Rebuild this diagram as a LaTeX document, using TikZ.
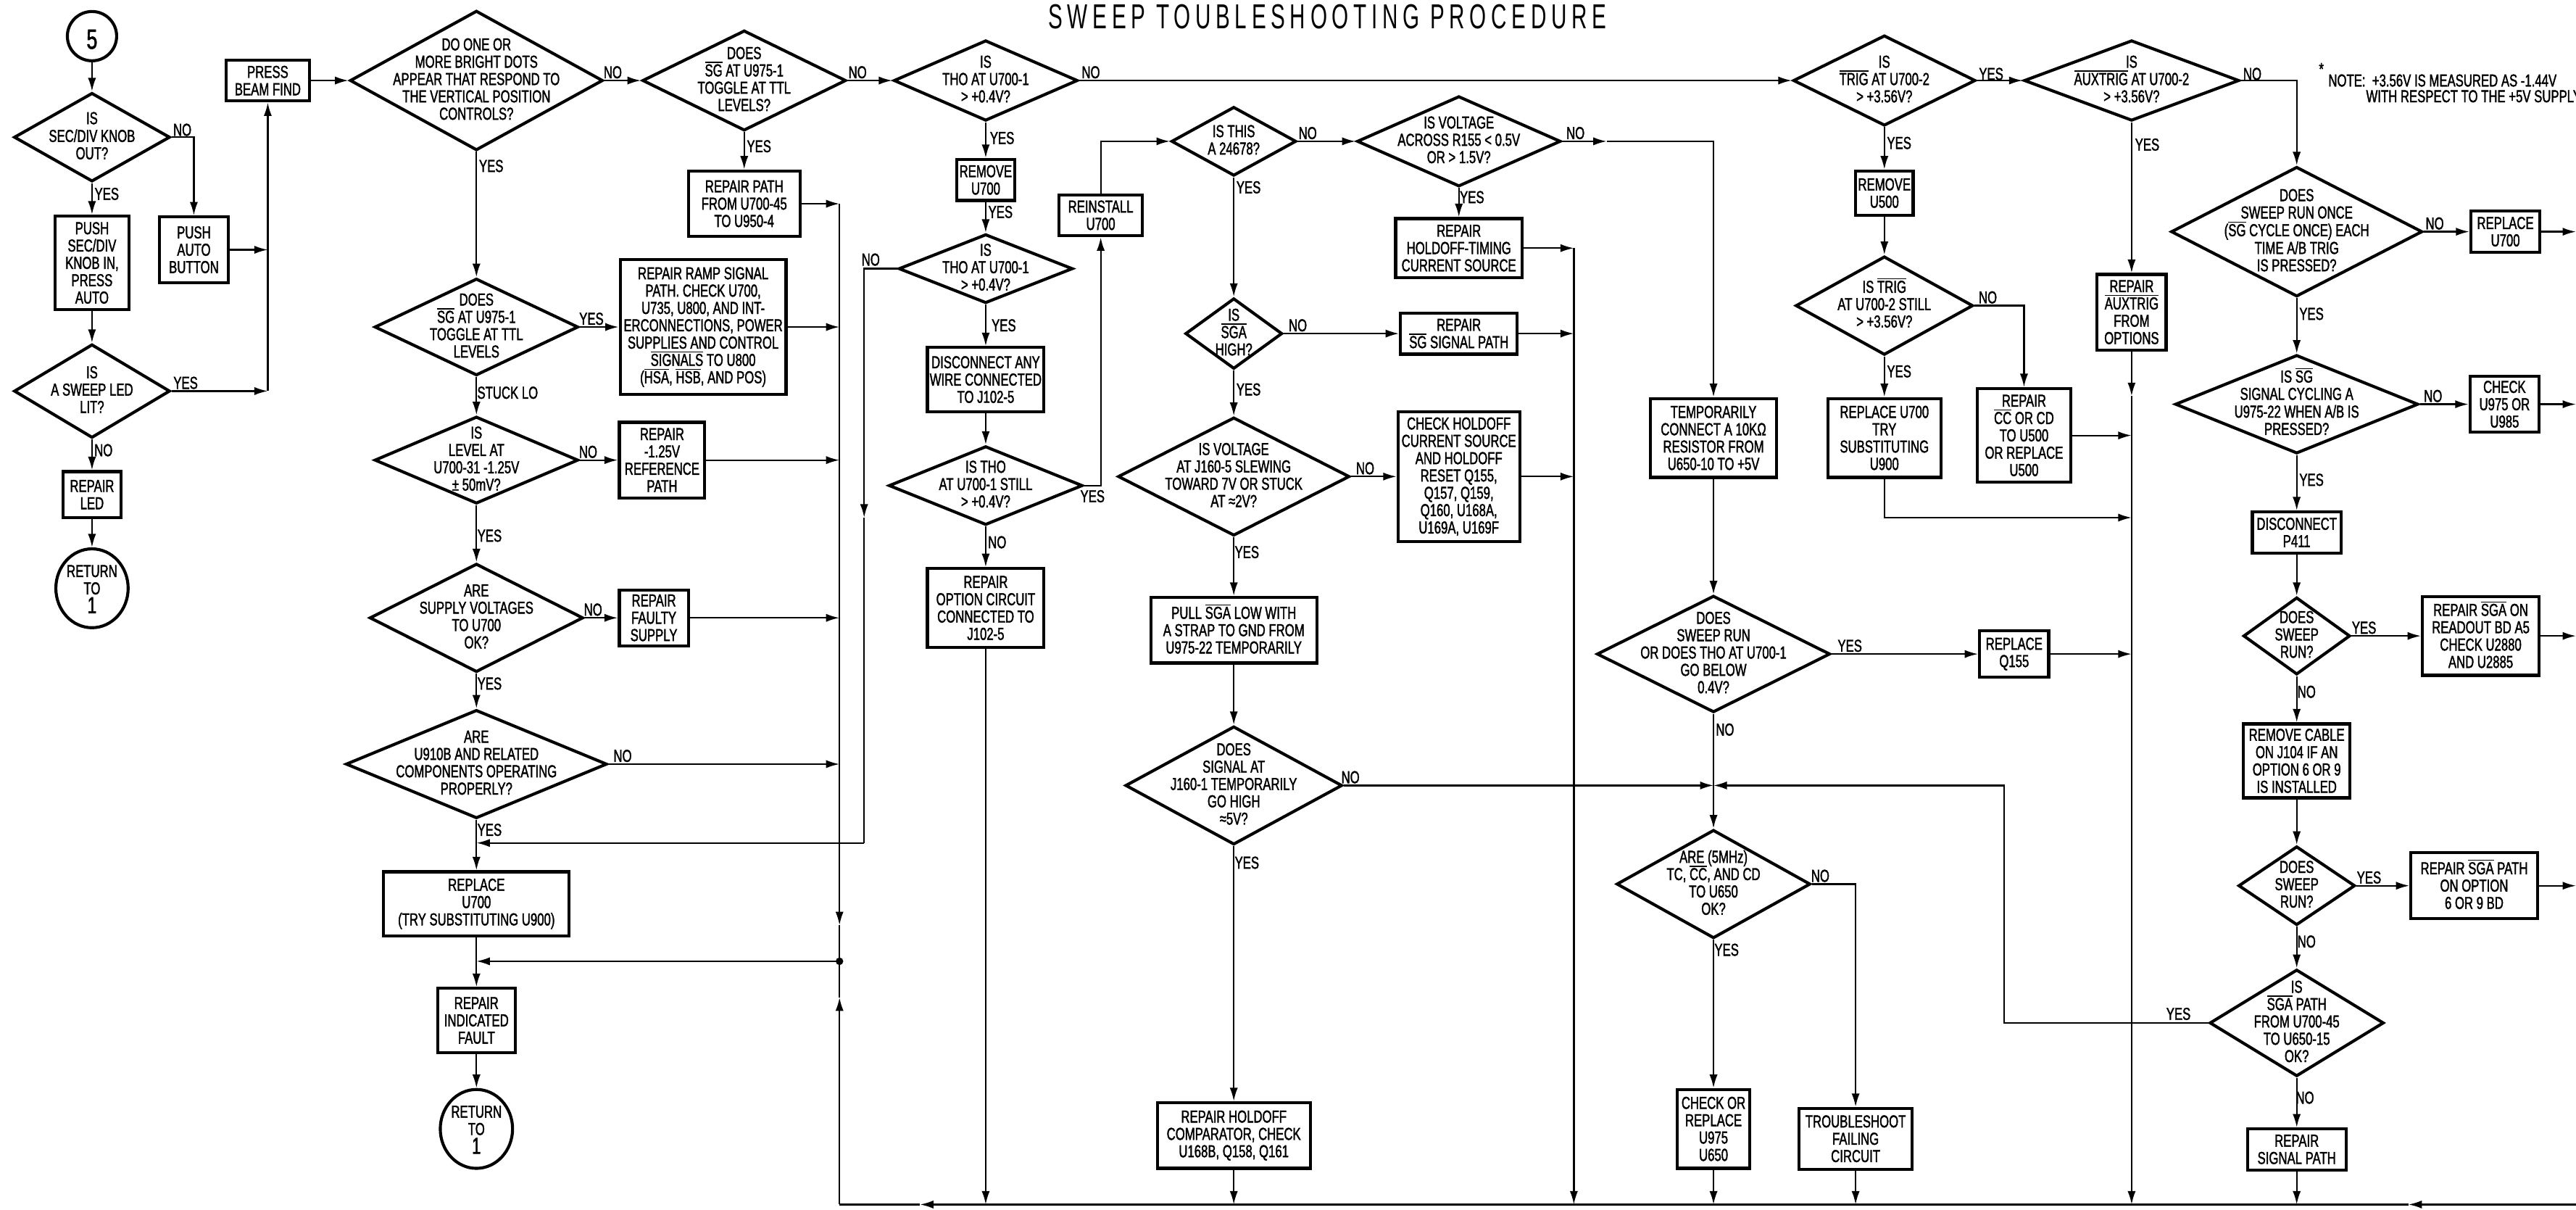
\documentclass[tikz,border=0pt]{standalone}
\usepackage{fontspec}
\setmainfont{Liberation Sans}[FakeStretch=0.70,FakeBold=1.6]
\newfontfamily\ttlfont{Liberation Sans}[FakeStretch=0.62,LetterSpace=14]
\usetikzlibrary{arrows.meta,shapes.geometric}
\newcommand\nf{\fontsize{7.5}{7.5}\selectfont}
\newcommand\ov[1]{\smash{\vbox{\hrule height 0.45pt\kern0.55pt\hbox{#1}}}}
\newcommand\dq[2][-2.2pt]{\smash{\raisebox{#1}{\makebox[0pt]{\begin{tabular}{@{}c@{}}#2\end{tabular}}}}}
\tikzset{
  proc/.style 2 args={draw,rectangle,line width=1.3pt,align=center,inner sep=1pt,font=\nf,minimum width=#1*0.025cm,minimum height=#2*0.025cm},
  dec/.style 2 args={draw,diamond,line width=1.3pt,inner sep=0pt,font=\nf,minimum width=#1*0.025cm,minimum height=#2*0.025cm},
  term/.style 2 args={draw,ellipse,line width=1.3pt,inner sep=0pt,font=\nf,minimum width=#1*0.025cm,minimum height=#2*0.025cm},
  yn/.style={inner sep=0pt,font=\nf},
  wire/.style={line width=0.7pt},
  arr/.style={wire,->},
}
\begin{document}
\begin{tikzpicture}[x=0.025cm,y=-0.025cm,>={Latex[length=5.8pt,width=3.5pt]}]
\useasboundingbox[fill=white] (0,0) rectangle (1568,736);
\node[font=\ttlfont\fontsize{15}{15}\selectfont] (title) at (808,10) {SWEEP TOUBLESHOOTING PROCEDURE};
\node[yn] (noteStar) at (1413,42) {*};
\node[yn,anchor=west] (noteA) at (1417,49) {NOTE:\ \ +3.56V IS MEASURED AS -1.44V};
\node[yn,anchor=west] (noteB) at (1440,58.6) {WITH RESPECT TO THE +5V SUPPLY};

\node[term={30}{30}] (start) at (56,22) {\dq[-4.2pt]{\fontsize{12}{12}\selectfont 5}};
\node[dec={95}{54}] (dKnob) at (56,83.5) {\dq{IS\\SEC/DIV KNOB\\OUT?}};
\node[proc={45}{57}] (pushKnob) at (56,160) {PUSH\\SEC/DIV\\KNOB IN,\\PRESS\\AUTO};
\node[proc={42}{40}] (pushAuto) at (118,152) {PUSH\\AUTO\\BUTTON};
\node[dec={95}{57}] (dLed) at (56,238) {\dq{IS\\A SWEEP LED\\LIT?}};
\node[proc={35}{28}] (repairLed) at (56,301) {REPAIR\\LED};
\node[term={44}{48}] (retA) at (56,358) {\dq[-3.2pt]{RETURN\\TO\\[-1pt]{\fontsize{10}{8}\selectfont 1}}};
\node[proc={51}{25}] (pressBeam) at (163,49) {PRESS\\BEAM FIND};

\node[dec={154}{85}] (dDots) at (290,49) {\dq{DO ONE OR\\MORE BRIGHT DOTS\\APPEAR THAT RESPOND TO\\THE VERTICAL POSITION\\CONTROLS?}};
\node[dec={124}{59}] (dSgTtl) at (290,199) {\dq{DOES\\\ov{SG} AT U975-1\\TOGGLE AT TTL\\LEVELS}};
\node[proc={101}{82}] (repairRamp) at (428,199) {REPAIR RAMP SIGNAL\\PATH. CHECK U700,\\U735, U800, AND INT-\\ERCONNECTIONS, POWER\\SUPPLIES AND CONTROL\\\ov{SIGNALS} TO U800\\(\ov{HSA}, \ov{HSB}, AND POS)};
\node[dec={124}{53}] (dLevel) at (290,280) {\dq{IS\\LEVEL AT\\U700-31 -1.25V\\± 50mV?}};
\node[proc={52}{46}] (repairRef) at (403,280) {REPAIR\\-1.25V\\REFERENCE\\PATH};
\node[dec={130}{66}] (dSupply) at (290,376) {\dq{ARE\\SUPPLY VOLTAGES\\TO U700\\OK?}};
\node[proc={42}{34}] (repairFaulty) at (398,376) {REPAIR\\FAULTY\\SUPPLY};
\node[dec={159}{66}] (dU910) at (290,465) {\dq{ARE\\U910B AND RELATED\\COMPONENTS OPERATING\\PROPERLY?}};
\node[proc={113}{39}] (replaceU700) at (290,550) {REPLACE\\U700\\(TRY SUBSTITUTING U900)};
\node[proc={47}{39}] (repairInd) at (290,621) {REPAIR\\INDICATED\\FAULT};
\node[term={44}{48}] (retB) at (290,687) {\dq[-3.2pt]{RETURN\\TO\\[-1pt]{\fontsize{10}{8}\selectfont 1}}};

\node[dec={124}{61}] (dSg1) at (453,49) {\dq{DOES\\\ov{SG} AT U975-1\\TOGGLE AT TTL\\LEVELS?}};
\node[proc={68}{40}] (repairPath) at (453,124) {REPAIR PATH\\FROM U700-45\\TO U950-4};
\node[dec={112}{49}] (dTho1) at (600,49) {\dq{IS\\THO AT U700-1\\> +0.4V?}};
\node[proc={35}{25}] (removeU700) at (600,109.5) {REMOVE\\U700};
\node[dec={106}{42}] (dTho2) at (600,163.5) {\dq{IS\\THO AT U700-1\\> +0.4V?}};
\node[proc={71}{39}] (disconnect) at (600,231) {DISCONNECT ANY\\WIRE CONNECTED\\TO J102-5};
\node[dec={118}{48}] (dThoStill) at (600,295.5) {\dq{IS THO\\AT U700-1 STILL\\> +0.4V?}};
\node[proc={71}{48}] (repairOpt) at (600,370) {REPAIR\\OPTION CIRCUIT\\CONNECTED TO\\J102-5};
\node[proc={51}{25}] (reinstall) at (670,131) {REINSTALL\\U700};

\node[dec={76}{42}] (dThis) at (751,86) {\dq{IS THIS\\A 24678?}};
\node[dec={59}{43}] (dSga) at (751,203) {\dq{IS\\\ov{SGA}\\HIGH?}};
\node[dec={141}{72}] (dVolt) at (751,290) {\dq{IS VOLTAGE\\AT J160-5 SLEWING\\TOWARD 7V OR STUCK\\AT ≈2V?}};
\node[proc={101}{40}] (pullSga) at (751,383.5) {PULL \ov{SGA} LOW WITH\\A STRAP TO GND FROM\\U975-22 TEMPORARILY};
\node[dec={132}{72}] (dSignal) at (751,478) {\dq{DOES\\SIGNAL AT\\J160-1 TEMPORARILY\\GO HIGH\\≈5V?}};
\node[proc={93}{40}] (repairHold) at (751,691) {REPAIR HOLDOFF\\COMPARATOR, CHECK\\U168B, Q158, Q161};

\node[dec={124}{55}] (dR155) at (888,86) {\dq{IS VOLTAGE\\ACROSS R155 < 0.5V\\OR > 1.5V?}};
\node[proc={77}{36}] (repairHT) at (888,151) {REPAIR\\HOLDOFF-TIMING\\CURRENT SOURCE};
\node[proc={71}{25}] (repairSg) at (888,203) {REPAIR\\\ov{SG} SIGNAL PATH};
\node[proc={74}{79}] (checkHold) at (888,290) {CHECK HOLDOFF\\CURRENT SOURCE\\AND HOLDOFF\\RESET Q155,\\Q157, Q159,\\Q160, U168A,\\U169A, U169F};

\node[proc={77}{48}] (tempConnect) at (1043,266.5) {TEMPORARILY\\CONNECT A 10KΩ\\RESISTOR FROM\\U650-10 TO +5V};
\node[dec={142}{71}] (dSweepRun) at (1043,398) {\dq{DOES\\SWEEP RUN\\OR DOES THO AT U700-1\\GO BELOW\\0.4V?}};
\node[dec={118}{66}] (dTc) at (1043,538) {\dq{ARE (5MHz)\\TC, \ov{CC}, AND CD\\TO U650\\OK?}};
\node[proc={44}{48}] (checkReplace) at (1043,687) {CHECK OR\\REPLACE\\U975\\U650};
\node[proc={69}{37}] (troubleshoot) at (1129.5,693) {TROUBLESHOOT\\FAILING\\CIRCUIT};
\node[proc={42}{28}] (replaceQ155) at (1226,398) {REPLACE\\Q155};

\node[dec={111}{55}] (dTrig) at (1147,49) {\dq{IS\\\ov{TRIG} AT U700-2\\> +3.56V?\\*}};
\node[proc={35}{27}] (removeU500) at (1147,117.5) {REMOVE\\U500};
\node[dec={108}{60}] (dTrigStill) at (1147,186) {\dq{IS \ov{TRIG}\\AT U700-2 STILL\\> +3.56V?\\*}};
\node[proc={69}{48}] (replaceTry) at (1147,266.5) {REPLACE U700\\TRY\\SUBSTITUTING\\U900};
\node[proc={57}{57}] (repairCC) at (1232,265) {REPAIR\\\ov{CC} OR CD\\TO U500\\OR REPLACE\\U500};
\node[dec={131}{49}] (dAux) at (1297.5,49) {\dq{IS\\\ov{AUXTRIG} AT U700-2\\> +3.56V?\\*}};
\node[proc={42}{46}] (repairAux) at (1297.5,190) {REPAIR\\\ov{AUXTRIG}\\FROM\\OPTIONS};

\node[dec={153}{79}] (dRunOnce) at (1398,141) {\dq{DOES\\SWEEP RUN ONCE\\(\ov{SG} CYCLE ONCE) EACH\\TIME A/B TRIG\\IS PRESSED?}};
\node[proc={42}{25}] (replaceU700b) at (1525,141) {REPLACE\\U700};
\node[dec={148}{60}] (dSgCyc) at (1398,246) {\dq{IS \ov{SG}\\SIGNAL CYCLING A\\U975-22 WHEN A/B IS\\PRESSED?}};
\node[proc={42}{34}] (checkU975) at (1524.5,246) {CHECK\\U975 OR\\U985};
\node[proc={54}{25}] (disconnectP411) at (1398,324) {DISCONNECT\\P411};
\node[dec={65}{47}] (dRun1) at (1398,387) {\dq{DOES\\SWEEP\\RUN?}};
\node[proc={71}{48}] (repairSgaRd) at (1510,387) {REPAIR \ov{SGA} ON\\READOUT BD A5\\CHECK U2880\\AND U2885};
\node[proc={65}{45}] (removeCable) at (1398,463) {REMOVE CABLE\\ON J104 IF AN\\OPTION 6 OR 9\\IS INSTALLED};
\node[dec={71}{48}] (dRun2) at (1398,539) {\dq{DOES\\SWEEP\\RUN?}};
\node[proc={77}{40}] (repairSgaOpt) at (1506,539) {REPAIR \ov{SGA} PATH\\ON OPTION\\6 OR 9 BD};
\node[dec={106}{65}] (dSgaPath) at (1398,622.5) {\dq{IS\\\ov{SGA} PATH\\FROM U700-45\\TO U650-15\\OK?}};
\node[proc={60}{25}] (repairSigPath) at (1398,699.5) {REPAIR\\SIGNAL PATH};

\coordinate (jTop) at (511,124);
\coordinate (aDown) at (511,563);
\coordinate (jDot) at (511,585);
\coordinate (aUp) at (511,607);
\coordinate (jBotL) at (511,733);
\coordinate (aBot) at (560,733);
\coordinate (aBotR) at (1466,733);
\coordinate (jBotR) at (1570,733);
\coordinate (aLoop) at (526,315);
\coordinate (jLoop) at (526,513);
\coordinate (aR155) at (978,86);
\coordinate (kBot) at (958,733);
\coordinate (jRun) at (1043,478);
\coordinate (kLoop) at (1220,478);
\coordinate (mTry) at (1297.5,315);
\coordinate (aAux) at (1297.5,241);
\coordinate (mBot) at (1297.5,733);
\coordinate (outA) at (1568,141);
\coordinate (outB) at (1568,246);
\coordinate (outC) at (1568,387);
\coordinate (outD) at (1568,539);

\draw[arr] (start) -- (dKnob);
\draw[arr] (dKnob) -- (pushKnob);
\draw[arr] (dKnob.east) -| (pushAuto.north);
\draw[arr] (pushKnob) -- (dLed);
\draw[arr] (pushAuto.east) -- (pushAuto.east -| pressBeam.south);
\draw[arr] (dLed.east) -- (dLed.east -| pressBeam.south);
\draw[arr] (dLed.east -| pressBeam.south) -- (pressBeam.south);
\draw[arr] (dLed) -- (repairLed);
\draw[arr] (repairLed) -- (retA);
\draw[arr] (pressBeam) -- (dDots);
\draw[arr] (dDots) -- (dSg1);
\draw[arr] (dDots) -- (dSgTtl);
\draw[arr] (dSgTtl) -- (repairRamp);
\draw[arr] (dSgTtl) -- (dLevel);
\draw[arr] (dLevel) -- (repairRef);
\draw[arr] (dLevel) -- (dSupply);
\draw[arr] (dSupply) -- (repairFaulty);
\draw[arr] (dSupply) -- (dU910);
\draw[arr] (dU910) -- (replaceU700);
\draw[arr] (replaceU700) -- (repairInd);
\draw[arr] (repairInd) -- (retB);

\draw[arr] (repairPath) -- (jTop);
\draw[arr] (repairRamp.east) -- (repairRamp.east -| jTop);
\draw[arr] (repairRef.east) -- (repairRef.east -| jTop);
\draw[arr] (repairFaulty.east) -- (repairFaulty.east -| jTop);
\draw[arr] (dU910.east) -- (dU910.east -| jTop);
\draw[arr] (jTop) -- (aDown);
\draw[wire] (aDown) -- (jDot);
\draw[arr] (jBotR) -- (aBotR);
\draw[arr] (aBotR) -- (aBot);
\draw[wire] (aBot) -- (jBotL);
\draw[arr] (jBotL) -- (aUp);
\draw[wire] (aUp) -- (jDot);
\draw[arr] (jDot) -- (jDot -| replaceU700.south);
\fill (jDot) circle (2.3);
\draw[arr] (dTho2.west) -| (aLoop);
\draw[wire] (aLoop) -- (jLoop);
\draw[arr] (jLoop) -- (jLoop -| replaceU700.north);

\draw[arr] (dSg1) -- (dTho1);
\draw[arr] (dSg1) -- (repairPath);
\draw[arr] (dTho1) -- (removeU700);
\draw[arr] (removeU700) -- (dTho2);
\draw[arr] (dTho2) -- (disconnect);
\draw[arr] (disconnect) -- (dThoStill);
\draw[arr] (dThoStill) -- (repairOpt);
\draw[arr] (dThoStill.east) -| (reinstall.south);
\draw[arr] (reinstall.north) |- (dThis.west);
\draw[arr] (repairOpt.south) -- (repairOpt.south |- jBotL);
\draw[arr] (dTho1) -- (dTrig);

\draw[arr] (dThis) -- (dSga);
\draw[arr] (dSga) -- (dVolt);
\draw[arr] (dVolt) -- (pullSga);
\draw[arr] (pullSga) -- (dSignal);
\draw[arr] (dSignal) -- (repairHold);
\draw[arr] (repairHold.south) -- (repairHold.south |- jBotL);
\draw[arr] (dThis) -- (dR155);
\draw[arr] (dSga) -- (repairSg);
\draw[arr] (dVolt) -- (checkHold);
\draw[arr] (dR155) -- (repairHT);
\draw[arr] (dR155.east) -- (aR155);
\draw[arr] (aR155) -| (tempConnect.north);
\draw[arr] (repairHT.east) -- (repairHT.east -| kBot);
\draw[arr] (repairHT.east -| kBot) -- (kBot);
\draw[arr] (repairSg.east) -- (repairSg.east -| kBot);
\draw[arr] (checkHold.east) -- (checkHold.east -| kBot);
\draw[arr] (dSignal.east) -- (jRun);

\draw[arr] (tempConnect) -- (dSweepRun);
\draw[arr] (dSweepRun) -- (dTc);
\draw[arr] (dSweepRun) -- (replaceQ155);
\draw[arr] (dTc) -- (checkReplace);
\draw[arr] (dTc.east) -| (troubleshoot.north);
\draw[arr] (checkReplace.south) -- (checkReplace.south |- jBotL);
\draw[arr] (troubleshoot.south) -- (troubleshoot.south |- jBotL);
\draw[arr] (replaceQ155.east) -- (replaceQ155.east -| mBot);

\draw[arr] (dTrig) -- (removeU500);
\draw[arr] (removeU500) -- (dTrigStill);
\draw[arr] (dTrigStill) -- (replaceTry);
\draw[arr] (dTrigStill.east) -| (repairCC.north);
\draw[arr] (replaceTry.south) |- (mTry);
\draw[arr] (repairCC.east) -- (repairCC.east -| mBot);
\draw[arr] (dTrig) -- (dAux);
\draw[arr] (dAux) -- (repairAux);
\draw[arr] (repairAux) -- (aAux);
\draw[arr] (aAux) -- (mBot);
\draw[arr] (dAux.east) -| (dRunOnce.north);

\draw[arr] (dRunOnce) -- (replaceU700b);
\draw[arr] (replaceU700b) -- (outA);
\draw[arr] (dRunOnce) -- (dSgCyc);
\draw[arr] (dSgCyc) -- (checkU975);
\draw[arr] (checkU975) -- (outB);
\draw[arr] (dSgCyc) -- (disconnectP411);
\draw[arr] (disconnectP411) -- (dRun1);
\draw[arr] (dRun1) -- (repairSgaRd);
\draw[arr] (repairSgaRd) -- (outC);
\draw[arr] (dRun1) -- (removeCable);
\draw[arr] (removeCable) -- (dRun2);
\draw[arr] (dRun2) -- (repairSgaOpt);
\draw[arr] (repairSgaOpt) -- (outD);
\draw[arr] (dRun2) -- (dSgaPath);
\draw[arr] (dSgaPath) -- (repairSigPath);
\draw[arr] (dSgaPath.west) -| (kLoop) -- (jRun);
\draw[arr] (repairSigPath.south) -- (repairSigPath.south |- jBotL);

\node[yn] (nKnob) at (111,79) {NO};
\node[yn] (yKnob) at (65,118) {YES};
\node[yn] (yLed) at (113,233) {YES};
\node[yn] (nLed) at (63,274) {NO};
\node[yn] (nDots) at (373,44) {NO};
\node[yn] (yDots) at (299,101) {YES};
\node[yn] (ySgTtl) at (360,194) {YES};
\node[yn] (stuckLo) at (309,239) {STUCK LO};
\node[yn] (nLevel) at (358,275) {NO};
\node[yn] (yLevel) at (298,326) {YES};
\node[yn] (nSupply) at (361,371) {NO};
\node[yn] (ySupply) at (298,416) {YES};
\node[yn] (nU910) at (379,460) {NO};
\node[yn] (yU910) at (298,505) {YES};
\node[yn] (nSg1) at (522,44) {NO};
\node[yn] (ySg1) at (462,89) {YES};
\node[yn] (nTho1) at (664,44) {NO};
\node[yn] (yTho1) at (610,84) {YES};
\node[yn] (yRemove) at (609,129) {YES};
\node[yn] (nTho2) at (530,158) {NO};
\node[yn] (yTho2) at (611,198) {YES};
\node[yn] (yThoStill) at (665,302) {YES};
\node[yn] (nThoStill) at (607,330) {NO};
\node[yn] (yThis) at (760,114) {YES};
\node[yn] (nThis) at (796,81) {NO};
\node[yn] (ySga) at (760,237) {YES};
\node[yn] (nSga) at (790,198) {NO};
\node[yn] (nR155) at (959,81) {NO};
\node[yn] (yR155) at (896,120) {YES};
\node[yn] (yVolt) at (759,336) {YES};
\node[yn] (nVolt) at (831,285) {NO};
\node[yn] (ySignal) at (759,525) {YES};
\node[yn] (nSignal) at (822,473) {NO};
\node[yn] (ySweepRun) at (1126,393) {YES};
\node[yn] (nSweepRun) at (1050,444) {NO};
\node[yn] (nTc) at (1108,533) {NO};
\node[yn] (yTc) at (1051,578) {YES};
\node[yn] (yTrig) at (1156,87) {YES};
\node[yn] (yTrigStill) at (1156,226) {YES};
\node[yn] (nTrigStill) at (1210,181) {NO};
\node[yn] (yTrigAux) at (1212,45) {YES};
\node[yn] (nAux) at (1371,45) {NO};
\node[yn] (yAux) at (1307,88) {YES};
\node[yn] (nRunOnce) at (1482,136) {NO};
\node[yn] (yRunOnce) at (1407,191) {YES};
\node[yn] (nSgCyc) at (1481,241) {NO};
\node[yn] (ySgCyc) at (1407,292) {YES};
\node[yn] (yRun1) at (1439,382) {YES};
\node[yn] (nRun1) at (1404,421) {NO};
\node[yn] (yRun2) at (1442,534) {YES};
\node[yn] (nRun2) at (1404,573) {NO};
\node[yn] (ySgaPath) at (1326,617) {YES};
\node[yn] (nSgaPath) at (1403,668) {NO};
\end{tikzpicture}
\end{document}
